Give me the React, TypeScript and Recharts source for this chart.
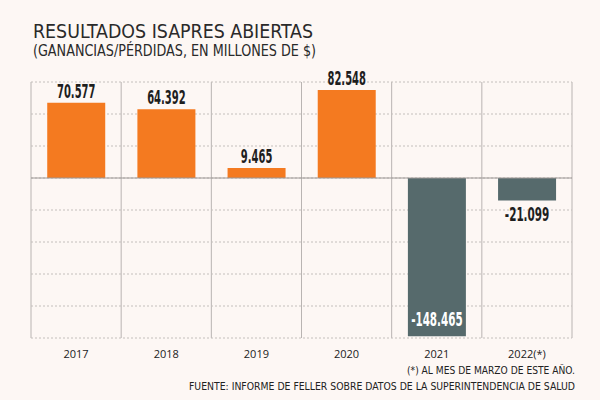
import React from 'react';
import { BarChart, Bar, XAxis, YAxis, CartesianGrid, ReferenceLine, LabelList, Cell } from 'recharts';

// Data
const years = ['2017', '2018', '2019', '2020', '2021', '2022(*)'];
const results = [70.577, 64.392, 9.465, 82.548, -148.465, -21.099];
const yTicks = [-150, -120, -90, -60, -30, 0, 30, 60, 90];

const ORANGE = '#f47a20';
const SLATE = '#566a6c';
const BG = '#fdf7f4';
const COND = '"DejaVu Sans Condensed", "DejaVu Sans", sans-serif';

const chartData = years.map((year, i) => ({ year, value: results[i] }));

// Spanish number format with dot as thousands/decimal separator seen in the picture
const fmt = (v: number) => v.toFixed(3);

// rough width of a condensed bold label so textLength squeezes it like the original
const labelWidth = (s: string) =>
    s.split('').reduce((w, ch) => w + (ch === '.' ? 3.5 : ch === '-' ? 6 : 7), 0);

const ValueLabel = (props: any) => {
    const { x, y, width, height, value } = props;
    const top = Math.min(y, y + height);
    const bottom = Math.max(y, y + height);
    const text = fmt(value);
    const cx = x + width / 2;
    let ty = top - 5;
    let fill = '#1e1e1e';
    if (value < 0) {
        if (bottom - top > 60) {
            ty = bottom - 10; // big negative bar: label inside, white
            fill = '#ffffff';
        } else {
            ty = bottom + 20;
        }
    }
    return (
        <text
            x={cx}
            y={ty}
            textAnchor="middle"
            fill={fill}
            fontFamily={COND}
            fontWeight="bold"
            fontSize={20}
            textLength={labelWidth(text)}
            lengthAdjust="spacingAndGlyphs"
        >
            {text}
        </text>
    );
};

export default function App() {
    return (
        <div style={{ position: 'absolute', left: 0, top: 0, width: 600, height: 400, background: BG }}>
            <BarChart
                width={600}
                height={400}
                data={chartData}
                margin={{ top: 82, right: 28, left: 31, bottom: 32 }}
                barCategoryGap="18%"
            >
                <CartesianGrid
                    stroke="#b9b4b2"
                    horizontal={false}
                    verticalCoordinatesGenerator={({ offset }: any) =>
                        years.map((_, i) => offset.left + (i * offset.width) / years.length).concat(offset.left + offset.width)
                    }
                />
                <CartesianGrid stroke="#c4bfbc" strokeDasharray="2 2" vertical={false} />
                <XAxis
                    dataKey="year"
                    axisLine={false}
                    tickLine={false}
                    height={30}
                    tickMargin={6}
                    tick={{ fontFamily: '"Open Sans", sans-serif', fontSize: 11, fill: '#222' }}
                />
                <YAxis hide domain={[-150, 90]} ticks={yTicks} />
                <ReferenceLine y={0} stroke="#9c9795" />
                <Bar dataKey="value" isAnimationActive={false}>
                    {chartData.map((d) => (
                        <Cell key={d.year} fill={d.value >= 0 ? ORANGE : SLATE} />
                    ))}
                    <LabelList dataKey="value" content={ValueLabel} />
                </Bar>
            </BarChart>
            <svg width={600} height={400} style={{ position: 'absolute', left: 0, top: 0, pointerEvents: 'none' }}>
                <text x={33} y={38} fontFamily={COND} fontSize={20} fill="#2a2a2a" textLength={280} lengthAdjust="spacingAndGlyphs">
                    RESULTADOS ISAPRES ABIERTAS
                </text>
                <text x={33} y={56} fontFamily={COND} fontSize={15} fill="#2a2a2a" textLength={283} lengthAdjust="spacingAndGlyphs">
                    (GANANCIAS/PÉRDIDAS, EN MILLONES DE $)
                </text>
                <text x={575} y={374} textAnchor="end" fontFamily={COND} fontSize={10.5} fill="#222" textLength={168} lengthAdjust="spacingAndGlyphs">
                    (*) AL MES DE MARZO DE ESTE AÑO.
                </text>
                <text x={575} y={390} textAnchor="end" fontFamily={COND} fontSize={10.5} fill="#222" textLength={386} lengthAdjust="spacingAndGlyphs">
                    FUENTE: INFORME DE FELLER SOBRE DATOS DE LA SUPERINTENDENCIA DE SALUD
                </text>
            </svg>
        </div>
    );
}
